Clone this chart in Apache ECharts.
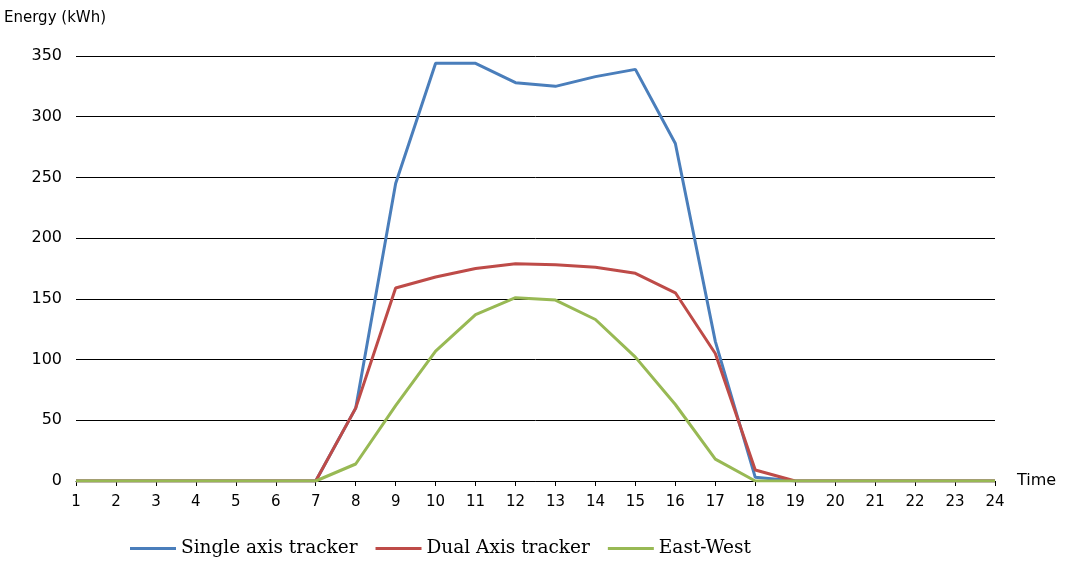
<!DOCTYPE html>
<html><head><meta charset="utf-8">
<script src="https://cdn.jsdelivr.net/npm/echarts@6/dist/echarts.min.js"></script>
<style>html,body{margin:0;background:#fff}#c{width:1070px;height:563px}</style>
</head><body><div id="c"></div>
<script>
var hours = ['1','2','3','4','5','6','7','8','9','10','11','12','13','14','15','16','17','18','19','20','21','22','23','24'];
var singleAxis = [0,0,0,0,0,0,0,60,245,344,344,328,325,333,339,278,115,3,0,0,0,0,0,0];
var dualAxis = [0,0,0,0,0,0,0,60,159,168,175,179,178,176,171,155,105,9,0,0,0,0,0,0];
var eastWest = [0,0,0,0,0,0,0,14,62,107,137,151,149,133,102,63,18,0,0,0,0,0,0,0];

var chart = echarts.init(document.getElementById('c'));
function line(name, data, color) {
    return {name: name, type: 'line', data: data, symbol: 'none',
        lineStyle: {color: color, width: 3}, itemStyle: {color: color}};
}
chart.setOption({
    animation: false,
    grid: {left: 76, right: 75, top: 56, bottom: 82},
    legend: {
        bottom: 0, left: 125, itemWidth: 46, itemHeight: 3, itemGap: 18, icon: 'rect',
        textStyle: {fontFamily: 'DejaVu Serif', fontSize: 18.5, color: '#000'}
    },
    xAxis: {
        type: 'category', data: hours, boundaryGap: false,
        name: 'Time', nameGap: 22, nameTextStyle: {fontFamily: 'DejaVu Sans', fontSize: 16, color: '#000', verticalAlign: 'middle'},
        axisLine: {lineStyle: {color: '#000'}},
        axisTick: {show: true, alignWithLabel: true, length: 5, lineStyle: {color: '#000'}},
        axisLabel: {fontFamily: 'DejaVu Sans', color: '#000', fontSize: 15, margin: 14}
    },
    yAxis: {
        type: 'value', min: 0, max: 350, interval: 50,
        name: 'Energy (kWh)', nameGap: 30, nameTextStyle: {fontFamily: 'DejaVu Sans', fontSize: 15, color: '#000', align: 'left', padding: [0,0,0,-72]},
        axisLine: {show: false}, axisTick: {show: false},
        axisLabel: {fontFamily: 'DejaVu Sans', color: '#000', fontSize: 16, margin: 14},
        splitLine: {lineStyle: {color: '#000', width: 1}}
    },
    series: [
        line('Single axis tracker', singleAxis, '#4a7ebb'),
        line('Dual Axis tracker', dualAxis, '#be4b48'),
        line('East-West', eastWest, '#98b954')
    ]
});
</script></body></html>
